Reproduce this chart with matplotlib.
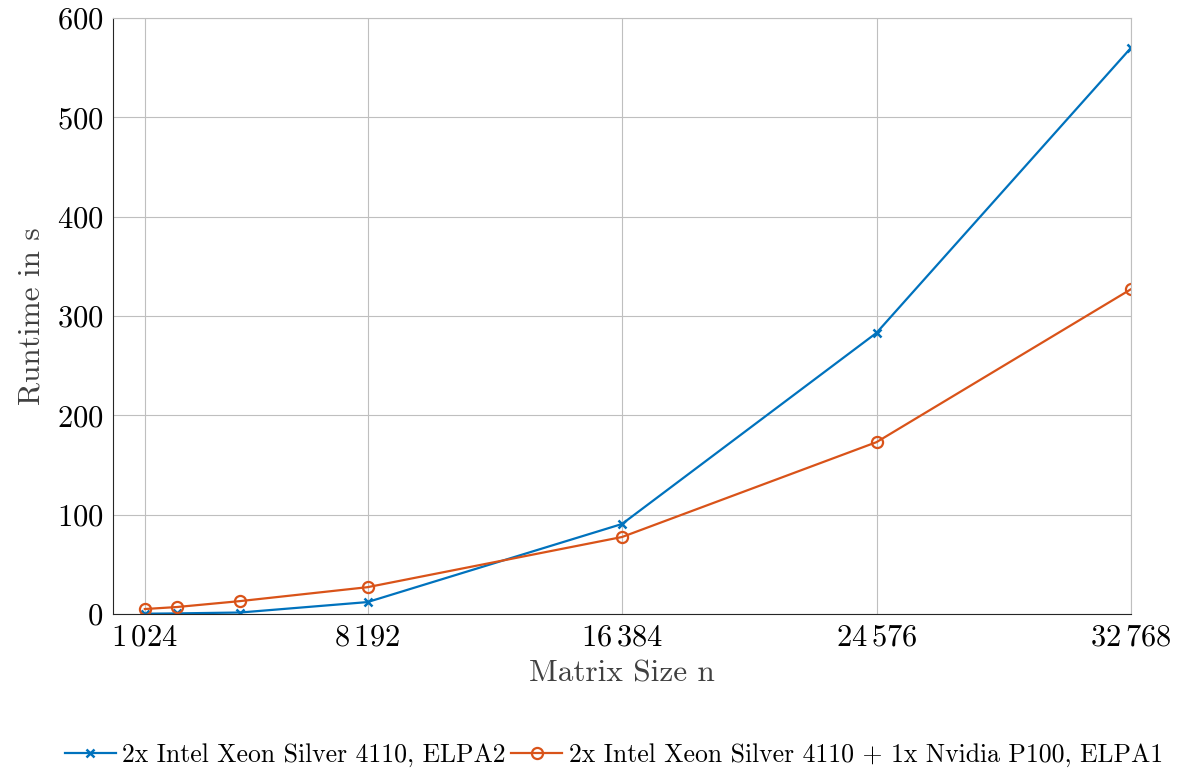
import matplotlib.pyplot as plt

plt.rcParams['font.family'] = 'serif'
plt.rcParams['font.serif'] = ['cmr10']
plt.rcParams['mathtext.fontset'] = 'cm'
plt.rcParams['axes.unicode_minus'] = False

# data
sizes = [1024, 2048, 4096, 8192, 16384, 24576, 32768]
cpu_elpa2 = [0.3, 0.6, 1.5, 12, 90.6, 283, 570]
gpu_elpa1 = [5, 7, 13, 27, 77.5, 173, 327]
xticks = [1024, 8192, 16384, 24576, 32768]
xticklabels = [r'$1\,024$', r'$8\,192$', r'$16\,384$', r'$24\,576$', r'$32\,768$']
yticks = [0, 100, 200, 300, 400, 500, 600]

fig = plt.figure(figsize=(11.85, 7.69), dpi=100)
ax = fig.add_axes([113 / 1185, 1 - 614 / 769, (1131 - 113) / 1185, (614 - 18) / 769])

blue = '#0072BD'
orange = '#D95319'
ax.plot(sizes, cpu_elpa2, color=blue, lw=1.6, marker='x', ms=6, mew=1.8,
        label='2x Intel Xeon Silver 4110, ELPA2')
ax.plot(sizes, gpu_elpa1, color=orange, lw=1.6, marker='o', ms=8, mew=1.6,
        mfc='none', label='2x Intel Xeon Silver 4110 + 1x Nvidia P100, ELPA1')

ax.set_xlim(0, 32768)
ax.set_ylim(0, 600)
ax.set_xticks(xticks)
ax.set_xticklabels(xticklabels)
ax.set_yticks(yticks)
ax.set_yticklabels([f'${v}$' for v in yticks])
ax.tick_params(labelsize=22, length=0, pad=7)
ax.grid(True, color='#bfbfbf', lw=0.8)
ax.set_axisbelow(True)
for side in ['top', 'right']:
    ax.spines[side].set_color('#bfbfbf')
for side in ['left', 'bottom']:
    ax.spines[side].set_color('#262626')

ax.set_xlabel('Matrix Size n', fontsize=22.5, color='#404040', labelpad=6)
ax.set_ylabel('Runtime in s', fontsize=22.5, color='#404040', labelpad=8)

fig.legend(loc='center', bbox_to_anchor=(0.518, 1 - 755 / 769), ncol=2,
           frameon=False, fontsize=18.5, handlelength=2.0, columnspacing=0.2,
           handletextpad=0.25)

fig.savefig('out.png', dpi=100)
